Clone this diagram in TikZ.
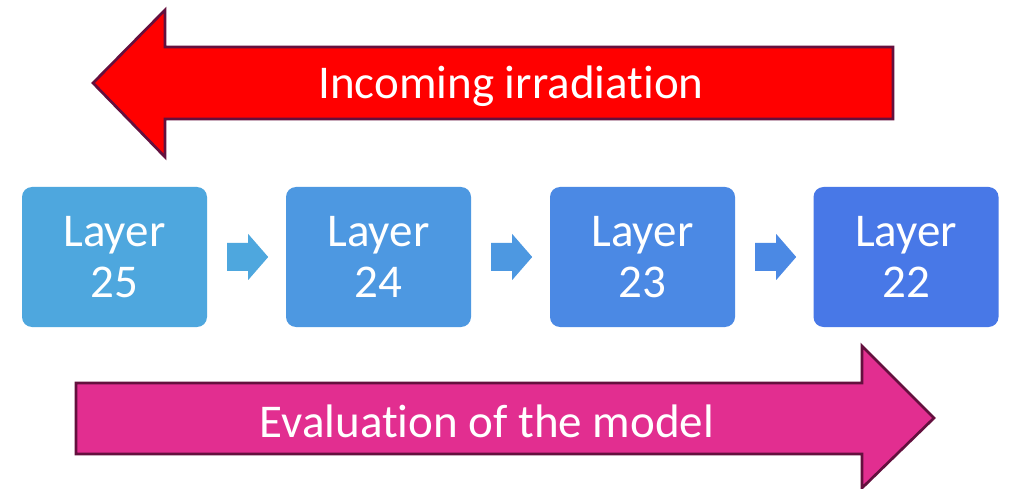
\documentclass[tikz,border=0pt]{standalone}
\usepackage{fontspec}
\setmainfont{Carlito}[Ligatures=NoCommon]
\usetikzlibrary{calc}
\definecolor{layerA}{RGB}{78,167,222}
\definecolor{layerB}{RGB}{77,152,225}
\definecolor{layerC}{RGB}{75,137,228}
\definecolor{layerD}{RGB}{72,120,231}
\definecolor{bigred}{RGB}{255,0,0}
\definecolor{bigpink}{RGB}{226,46,144}
\definecolor{edgedark}{RGB}{100,16,62}
\tikzset{
  layerbox/.style={rounded corners=10pt, minimum width=185pt, minimum height=140pt,
    inner sep=0pt, text=white, align=center, font=\fontsize{47}{51}\selectfont},
  bigarrow/.style={draw=edgedark, line width=2.7pt, line join=miter},
  biglabel/.style={text=white, font=\fontsize{47}{51}\selectfont, inner sep=0pt}
}
\begin{document}
\begin{tikzpicture}[x=1pt,y=-1pt]
\useasboundingbox (0,0) rectangle (1010,489);
\fill[white] (0,0) rectangle (1010,489);

% incoming irradiation (right to left)
\draw[bigarrow, fill=bigred] (893,47) -- (165,47) -- (165,10) -- (93,83) -- (165,157) -- (165,119) -- (893,119) -- cycle;
\node[biglabel] (irr) at (511,86) {Incoming irradiation};

% layer boxes
\node[layerbox, fill=layerA] (l25) at (114.5,257) {Layer\\25};
\node[layerbox, fill=layerB] (l24) at (378.5,257) {Layer\\24};
\node[layerbox, fill=layerC] (l23) at (642.5,257) {Layer\\23};
\node[layerbox, fill=layerD] (l22) at (906,257) {Layer\\22};

% small block arrows between the boxes
\foreach \a/\b/\c in {l25/l24/layerA, l24/l23/layerB, l23/l22/layerC}{
  \coordinate (s) at ($(\a.east)+(20,0)$);
  \fill[\c] ($(s)+(0,-14)$) -- ($(s)+(21,-14)$) -- ($(s)+(21,-23)$) -- ($(s)+(41,0)$)
     -- ($(s)+(21,23)$) -- ($(s)+(21,14)$) -- ($(s)+(0,14)$) -- cycle;
}

% evaluation of the model (left to right)
\draw[bigarrow, fill=bigpink] (76,383) -- (862,383) -- (862,346) -- (934,418) -- (862,488) -- (862,454) -- (76,454) -- cycle;
\node[biglabel] (eval) at (487,421) {Evaluation of the model};
\end{tikzpicture}
\end{document}
